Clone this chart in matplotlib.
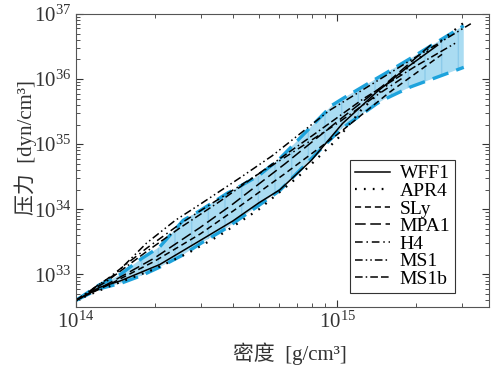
import numpy as np
import matplotlib
matplotlib.use('Agg')
import matplotlib.pyplot as plt

plt.rcParams['font.family'] = ['Liberation Serif', 'Noto Sans CJK SC']
plt.rcParams['mathtext.fontset'] = 'stix'

# log10(density [g/cm^3]) and log10(pressure [dyn/cm^3])
band_rho = [14.0, 14.09, 14.13, 14.17, 14.25, 14.32, 14.41, 14.475, 14.58, 14.6, 14.7, 14.78, 14.98, 15.02, 15.15, 15.18, 15.28, 15.483]
band_lo  = [32.6, 32.78, 32.82, 32.86, 32.98, 33.11, 33.3, 33.47, 33.72, 33.78, 34.06, 34.29, 35.1, 35.25, 35.62, 35.69, 35.88, 36.18]
band_hi  = [32.6, 32.84, 32.91, 33.0, 33.24, 33.42, 33.83, 33.98, 34.25, 34.29, 34.52, 34.78, 35.6, 35.7, 36.01, 36.08, 36.32, 36.82]

wff1_rho = [14.0, 14.09, 14.17, 14.32, 14.475, 14.6, 14.7, 14.78, 14.9, 15.02, 15.15, 15.27, 15.383]
wff1_p   = [32.6, 32.8, 32.9, 33.15, 33.52, 33.82, 34.1, 34.3, 34.75, 35.32, 35.8, 36.19, 36.52]

apr4_rho = [14.0, 14.13, 14.3, 14.43, 14.55, 14.7, 14.85, 15.0, 15.09, 15.2, 15.3, 15.5]
apr4_p   = [32.6, 32.82, 33.08, 33.33, 33.6, 34.0, 34.5, 35.08, 35.52, 35.95, 36.28, 36.92]

sly_rho = [14.0, 14.13, 14.3, 14.475, 14.6, 14.8, 15.0, 15.2, 15.4]
sly_p   = [32.6, 32.85, 33.2, 33.62, 33.97, 34.55, 35.15, 35.8, 36.38]

mpa1_rho = [14.0, 14.13, 14.3, 14.475, 14.6, 14.8, 15.0, 15.2, 15.37]
mpa1_p   = [32.6, 32.87, 33.25, 33.72, 34.08, 34.7, 35.35, 35.98, 36.57]

h4_rho = [14.0, 14.12, 14.27, 14.4, 14.5, 14.65, 14.8, 15.0, 15.15, 15.25]
h4_p   = [32.6, 32.93, 33.4, 33.78, 34.04, 34.42, 34.8, 35.32, 35.75, 36.02]

ms1_rho = [14.0, 14.09, 14.15, 14.27, 14.38, 14.48, 14.63, 14.75, 14.97, 15.28, 15.51]
ms1_p   = [32.6, 32.85, 33.0, 33.48, 33.83, 34.09, 34.49, 34.82, 35.52, 36.29, 36.85]

ms1b_rho = [14.0, 14.12, 14.27, 14.4, 14.55, 14.7, 14.9, 15.1, 15.3, 15.45]
ms1b_p   = [32.6, 32.9, 33.35, 33.72, 34.12, 34.55, 35.12, 35.7, 36.2, 36.55]

fig = plt.figure(figsize=(4.93, 3.68), dpi=100)
ax = fig.add_axes([0.154, 0.166, 0.838, 0.796])

r = 10 ** np.array(band_rho)
ax.fill_between(r, 10 ** np.array(band_lo), 10 ** np.array(band_hi),
                facecolor='#aadcf2', edgecolor='#8ccbea', hatch='|', linewidth=0)
cyan = '#1ea3dc'
ax.plot(r, 10 ** np.array(band_lo), color=cyan, lw=2.4, dashes=(5, 2.5))
ax.plot(r, 10 ** np.array(band_hi), color=cyan, lw=2.4, dashes=(5, 2.5))

k = 'k'
lw = 1.1
ax.plot(10 ** np.array(wff1_rho), 10 ** np.array(wff1_p), color=k, lw=lw, ls='-', label='WFF1')
ax.plot(10 ** np.array(apr4_rho), 10 ** np.array(apr4_p), color=k, lw=1.6, dashes=(0.8, 3.2), label='APR4')
ax.plot(10 ** np.array(sly_rho), 10 ** np.array(sly_p), color=k, lw=lw, dashes=(4, 2.5), label='SLy')
ax.plot(10 ** np.array(mpa1_rho), 10 ** np.array(mpa1_p), color=k, lw=lw, dashes=(7, 3), label='MPA1')
ax.plot(10 ** np.array(h4_rho), 10 ** np.array(h4_p), color=k, lw=lw, dashes=(5, 2.5, 1, 2.5), label='H4')
ax.plot(10 ** np.array(ms1_rho), 10 ** np.array(ms1_p), color=k, lw=lw, dashes=(5, 2, 1, 2, 1, 2), label='MS1')
ax.plot(10 ** np.array(ms1b_rho), 10 ** np.array(ms1b_p), color=k, lw=lw, dashes=(5, 2, 1, 2, 5, 2), label='MS1b')

ax.set_xscale('log')
ax.set_yscale('log')
ax.set_xlim(1e14, 3.8e15)
ax.set_ylim(10 ** 32.5, 1e37)
ax.set_yticks([1e33, 1e34, 1e35, 1e36, 1e37])
ax.set_xticks([1e14, 1e15])
ax.tick_params(which='both', direction='in', top=True, right=True, labelsize=15, colors='#333333')
ax.tick_params(which='major', length=5)
ax.tick_params(which='minor', length=3)
for s in ax.spines.values():
    s.set_color('#555555')

# no mathtext here, so the CJK fallback works
ax.set_xlabel('密度  [g/cm³]', fontsize=15, color='#333333')
ax.set_ylabel('压力  [dyn/cm³]', fontsize=15, color='#333333')
ax.xaxis.set_label_coords(0.518, -0.12)
ax.yaxis.set_label_coords(-0.095, 0.545)

leg = ax.legend(loc='lower right', bbox_to_anchor=(0.918, 0.048), fontsize=14,
                frameon=True, fancybox=False, framealpha=1, edgecolor='#333333',
                handlelength=1.8, handletextpad=0.5, labelspacing=0.0,
                borderpad=0.25, borderaxespad=0)
leg.get_frame().set_linewidth(0.8)

fig.savefig('out.png', dpi=100)
